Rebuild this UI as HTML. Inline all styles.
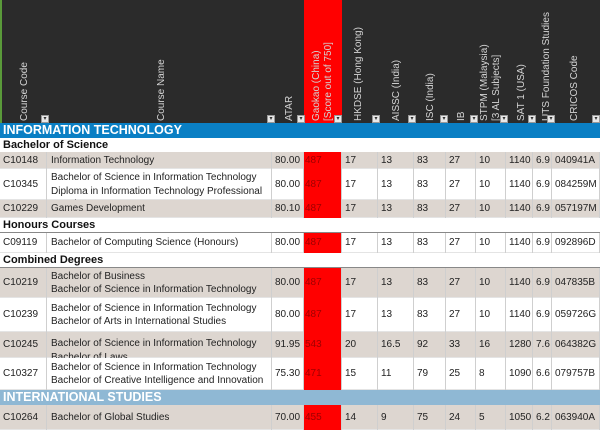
<!DOCTYPE html>
<html><head><meta charset="utf-8"><style>
body{margin:0;width:600px;height:430px;overflow:hidden;background:#fff;font-family:"Liberation Sans",Arial,sans-serif;position:relative}
.a{position:absolute;box-sizing:border-box}
.hdr{left:0;top:0;width:600px;height:123px;background:#2b2b2b;border-left:2px solid #5a9a3a}
.rot{position:absolute;transform-origin:0 0;transform:rotate(-90deg);color:#d4d4d4;font-size:10px;white-space:nowrap;line-height:11.5px}
.dd{position:absolute;width:8px;height:8px;top:115px;background:#e8e8e8;border:1px solid #999;font-size:6px;line-height:7px;text-align:center;color:#333;box-sizing:border-box}
.band{left:0;width:600px;height:15px;color:#fff;font-weight:bold;font-size:12.5px;line-height:15px;padding-left:3px}
.sub{left:0;width:600px;height:15px;font-weight:bold;font-size:11px;line-height:15px;padding-left:3px;color:#111;border-bottom:1px solid #888}
.cell{position:absolute;font-size:10px;color:#222;display:flex;align-items:center;white-space:nowrap;overflow:hidden;box-sizing:border-box;border-right:1px solid #cfcfcf;line-height:13.5px}
</style></head><body>
<div class="a hdr"></div>
<div class="a" style="left:304px;top:0;width:38px;height:123px;background:#f00"></div>
<div id="hl"></div>
<div class="a band" style="top:123px;background:#0a7fc4">INFORMATION TECHNOLOGY</div>
<div class="a sub" style="top:138px">Bachelor of Science</div>
<div class="a sub" style="top:218px">Honours Courses</div>
<div class="a sub" style="top:253px">Combined Degrees</div>
<div class="a band" style="top:390px;background:#8fb8d4">INTERNATIONAL STUDIES</div>
<div id="rows"></div>
<script>
const headers=[["Course Code",19],["Course Name",156],["ATAR",284],["Gaokao (China)\n[Score out of 750]",311],["HKDSE (Hong Kong)",353],["AISSC (India)",391],["ISC (India)",425],["IB",456],["STPM (Malaysia)\n[3 AL Subjects]",479],["SAT 1 (USA)",516],["UTS Foundation Studies",541],["CRICOS Code",569]];
const ddx=[41,267,297,334,372,408,440,470,500,528,547,592];
const hl=document.getElementById('hl');
headers.forEach((h,i)=>{
  const d=document.createElement('div');
  d.className='rot';
  
  
  d.style.left=h[1]+'px';d.style.top='121px';
  d.innerHTML=h[0].replace('\n','<br>');
  hl.appendChild(d);
  const b=document.createElement('div');
  b.className='dd';
  
  
  b.style.left=ddx[i]+'px';b.textContent='▾';
  hl.appendChild(b);
});
const cols=[0,47,272,304,342,378,414,446,476,506,533,552,600];
const rows=[
[152,17,1,["C10148","Information Technology","80.00","487","17","13","83","27","10","1140","6.9","040941A"]],
[169,31,0,["C10345","Bachelor of Science in Information Technology<br>Diploma in Information Technology Professional<br>Practice","80.00","487","17","13","83","27","10","1140","6.9","084259M"]],
[200,18,1,["C10229","Games Development","80.10","487","17","13","83","27","10","1140","6.9","057197M"]],
[233,20,0,["C09119","Bachelor of Computing Science (Honours)","80.00","487","17","13","83","27","10","1140","6.9","092896D"]],
[268,30,1,["C10219","Bachelor of Business<br>Bachelor of Science in Information Technology","80.00","487","17","13","83","27","10","1140","6.9","047835B"]],
[298,34,0,["C10239","Bachelor of Science in Information Technology<br>Bachelor of Arts in International Studies","80.00","487","17","13","83","27","10","1140","6.9","059726G"]],
[332,26,1,["C10245","Bachelor of Science in Information Technology<br>Bachelor of Laws","91.95","543","20","16.5","92","33","16","1280","7.6","064382G"]],
[358,32,0,["C10327","Bachelor of Science in Information Technology<br>Bachelor of Creative Intelligence and Innovation","75.30","471","15","11","79","25","8","1090","6.6","079757B"]],
[405,25,1,["C10264","Bachelor of Global Studies","70.00","455","14","9","75","24","5","1050","6.2","063940A"]]];
const rc=document.getElementById('rows');
rows.forEach(r=>{
  const row=document.createElement('div');
  row.className='a';
  
  
  row.style.cssText=`left:0;top:${r[0]}px;width:600px;height:${r[1]}px;background:${r[2]?'#ddd6d0':'#fff'};border-bottom:1px solid #e4e4e4`;
  r[3].forEach((t,i)=>{
    const c=document.createElement('div');
    c.className='cell';
    
    
    c.style.left=cols[i]+'px';c.style.top='0';
    c.style.width=(cols[i+1]-cols[i])+'px';c.style.height=r[1]+'px';
    c.style.paddingLeft=(i==1?4:(i==3?1:3))+'px';
    if(i==3){c.style.background='#f00';c.style.color='#a00000';}
    if(i==1&&t.split('<br>').length>2){c.style.alignItems='flex-start';c.style.paddingTop='2px';}
    if(i==1&&r[3][0]=='C10245'){c.style.alignItems='flex-start';c.style.paddingTop='5px';}
    c.innerHTML=t;
    row.appendChild(c);
  });
  rc.appendChild(row);
});
</script>
</body></html>
